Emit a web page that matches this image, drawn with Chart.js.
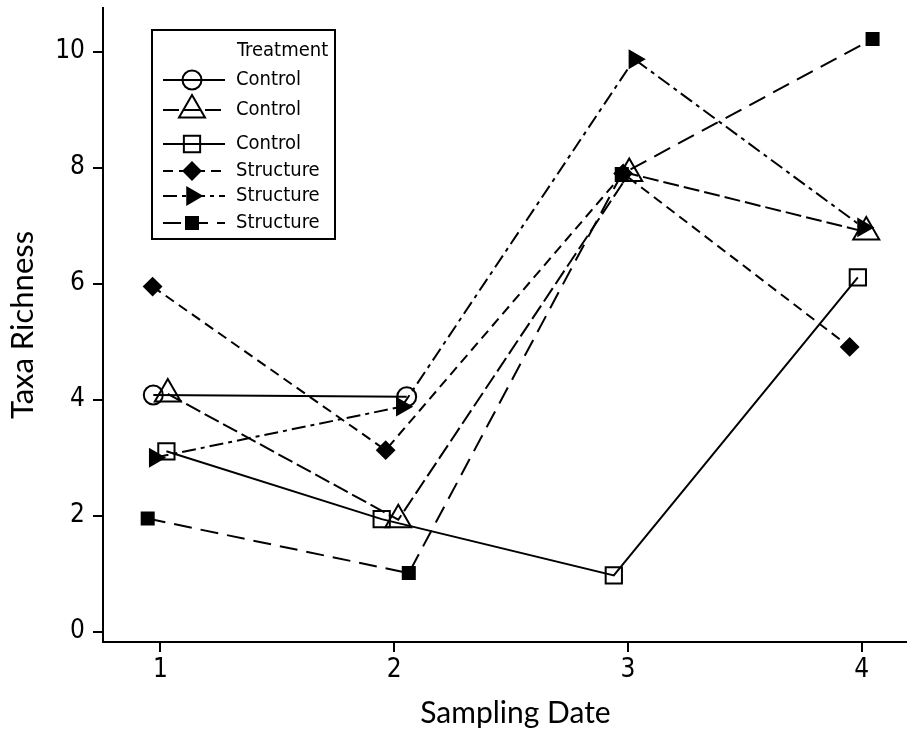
<!DOCTYPE html>
<html>
<head>
<meta charset="utf-8">
<title>Taxa Richness by Sampling Date</title>
<script src="https://cdn.jsdelivr.net/npm/chart.js@4/dist/chart.umd.min.js"></script>
<style>
  html, body { margin: 0; padding: 0; background: #ffffff; }
  #wrap { width: 909px; height: 735px; }
</style>
</head>
<body>
<div id="wrap"><canvas id="chart" width="909" height="735"></canvas></div>
<script>
// ---- data ----
const samplingDates = [1, 2, 3, 4];
const yTickValues = [0, 2, 4, 6, 8, 10];
const xAxisTitle = 'Sampling Date';
const yAxisTitle = 'Taxa Richness';
const legendTitle = 'Treatment';
const seriesNames = ['Control', 'Control', 'Control', 'Structure', 'Structure', 'Structure'];

// taxa richness per sampling date (null = not sampled)
const controlCircle   = [4.08, 4.05, null, null];
const controlTriangle = [4.10, 1.93, 7.90, 6.89];
const controlSquare   = [3.11, 1.94, 0.97, 6.11];
const structureDiamond  = [5.95, 3.13, 7.90, 4.91];
const structureArrow    = [3.00, 3.88, 9.87, 6.97];
const structureSquare   = [1.95, 1.01, 7.89, 10.22];

// small horizontal jitter of each point around its sampling date
const jitterControlCircle   = [-0.030, 0.054, 0, 0];
const jitterControlTriangle = [0.032, 0.018, 0.006, 0.020];
const jitterControlSquare   = [0.026, -0.053, -0.060, -0.016];
const jitterStructureDiamond = [-0.033, -0.036, -0.020, -0.051];
const jitterStructureArrow   = [-0.024, 0.033, 0.028, 0.006];
const jitterStructureSquare  = [-0.054, 0.063, -0.026, 0.047];

const seriesValues = [controlCircle, controlTriangle, controlSquare,
                      structureDiamond, structureArrow, structureSquare];
const seriesJitter = [jitterControlCircle, jitterControlTriangle, jitterControlSquare,
                      jitterStructureDiamond, jitterStructureArrow, jitterStructureSquare];

// ---- styles ----
const seriesStyle = [
  { pointStyle: 'circle',   radius: 9.5,  filled: false, dash: [],              rotation: 0 },
  { pointStyle: 'triangle', radius: 15,   filled: false, dash: [16, 5],         rotation: 0 },
  { pointStyle: 'rect',     radius: 11.5, filled: false, dash: [],              rotation: 0 },
  { pointStyle: 'rectRot',  radius: 8.5,  filled: true,  dash: [10, 6],         rotation: 0 },
  { pointStyle: 'triangle', radius: 9.5,  filled: true,  dash: [14, 5, 4, 5],   rotation: 90 },
  { pointStyle: 'rect',     radius: 8.5,  filled: true,  dash: [18, 9],         rotation: 0 }
];

const tickFont = '"DejaVu Sans Condensed", "DejaVu Sans", sans-serif';
const titleFont = 'Lato, "Open Sans", sans-serif';

const datasets = seriesValues.map((vals, s) => {
  const st = seriesStyle[s];
  const pts = [];
  vals.forEach((v, i) => {
    if (v !== null) pts.push({ x: samplingDates[i] + seriesJitter[s][i], y: v });
  });
  return {
    label: seriesNames[s],
    data: pts,
    borderColor: '#000',
    borderWidth: 2,
    borderDash: st.dash,
    pointStyle: st.pointStyle,
    pointRadius: st.radius,
    pointHoverRadius: st.radius,
    pointRotation: st.rotation,
    pointBorderWidth: 2,
    pointBorderColor: '#000',
    pointBackgroundColor: st.filled ? '#000' : 'rgba(0,0,0,0)',
    fill: false,
    tension: 0
  };
});

// boxed legend with line sample + marker for each series, plus the x axis title
const treatmentLegend = {
  id: 'treatmentLegend',
  afterDraw(chart) {
    const ctx = chart.ctx;
    const area = chart.chartArea;
    const x0 = area.left + 49, y0 = area.top + 22, w = 183, h = 209;
    const rowOffsets = [50, 80, 114, 141, 166, 193];
    ctx.save();
    ctx.strokeStyle = '#000';
    ctx.lineWidth = 2;
    ctx.setLineDash([]);
    ctx.strokeRect(x0, y0, w, h);
    ctx.fillStyle = '#000';
    ctx.font = '20px ' + tickFont;
    ctx.textBaseline = 'middle';
    ctx.textAlign = 'left';
    ctx.fillText(legendTitle, x0 + 85, y0 + 21);
    chart.data.datasets.forEach((ds, i) => {
      const y = y0 + rowOffsets[i];
      ctx.strokeStyle = '#000';
      ctx.lineWidth = 2;
      ctx.setLineDash(ds.borderDash || []);
      ctx.beginPath();
      ctx.moveTo(x0 + 11, y);
      ctx.lineTo(x0 + 73, y);
      ctx.stroke();
      ctx.setLineDash([]);
      ctx.fillStyle = ds.pointBackgroundColor;
      ctx.strokeStyle = '#000';
      ctx.lineWidth = 2;
      Chart.helpers.drawPoint(ctx, {
        pointStyle: ds.pointStyle,
        rotation: ds.pointRotation || 0,
        radius: ds.pointRadius,
        borderWidth: 2
      }, x0 + 40, y);
      ctx.fillStyle = '#000';
      ctx.fillText(ds.label, x0 + 84, y);
    });

    // x axis title, centred a little right of the plot centre
    ctx.font = '30px ' + titleFont;
    ctx.textAlign = 'center';
    ctx.textBaseline = 'alphabetic';
    ctx.fillText(xAxisTitle, (area.left + area.right) / 2 + 11, chart.height - 12);
    ctx.restore();
  }
};

function clearPadding(scale) {
  scale.paddingTop = 0;
  scale.paddingBottom = 0;
  scale.paddingLeft = 0;
  scale.paddingRight = 0;
}

new Chart(document.getElementById('chart'), {
  type: 'line',
  data: { datasets },
  plugins: [treatmentLegend],
  options: {
    responsive: false,
    animation: false,
    devicePixelRatio: 1,
    layout: { autoPadding: false, padding: { top: 8, right: 3, left: 0, bottom: 0 } },
    plugins: { legend: { display: false }, tooltip: { enabled: false } },
    events: [],
    scales: {
      x: {
        type: 'linear',
        min: 0.7548,
        max: 4.19,
        afterFit(scale) { scale.height = 93; clearPadding(scale); },
        afterBuildTicks(scale) { scale.ticks = samplingDates.map(v => ({ value: v })); },
        grid: { display: true, drawOnChartArea: false, drawTicks: true, tickLength: 10, color: '#000', lineWidth: 2 },
        border: { display: true, color: '#000', width: 2 },
        ticks: { color: '#000', font: { family: tickFont, size: 26 }, padding: 3, maxRotation: 0 },
        title: { display: false }
      },
      y: {
        type: 'linear',
        min: -0.178,
        max: 10.753,
        afterFit(scale) { scale.width = 103; clearPadding(scale); },
        afterBuildTicks(scale) { scale.ticks = yTickValues.map(v => ({ value: v })); },
        grid: { display: true, drawOnChartArea: false, drawTicks: true, tickLength: 10, color: '#000', lineWidth: 2 },
        border: { display: true, color: '#000', width: 2 },
        ticks: { color: '#000', font: { family: tickFont, size: 26 }, padding: 8 },
        title: { display: true, text: yAxisTitle, color: '#000',
                 font: { family: titleFont, size: 31 }, padding: { top: 4, bottom: 0 } }
      }
    }
  }
});
</script>
</body>
</html>
